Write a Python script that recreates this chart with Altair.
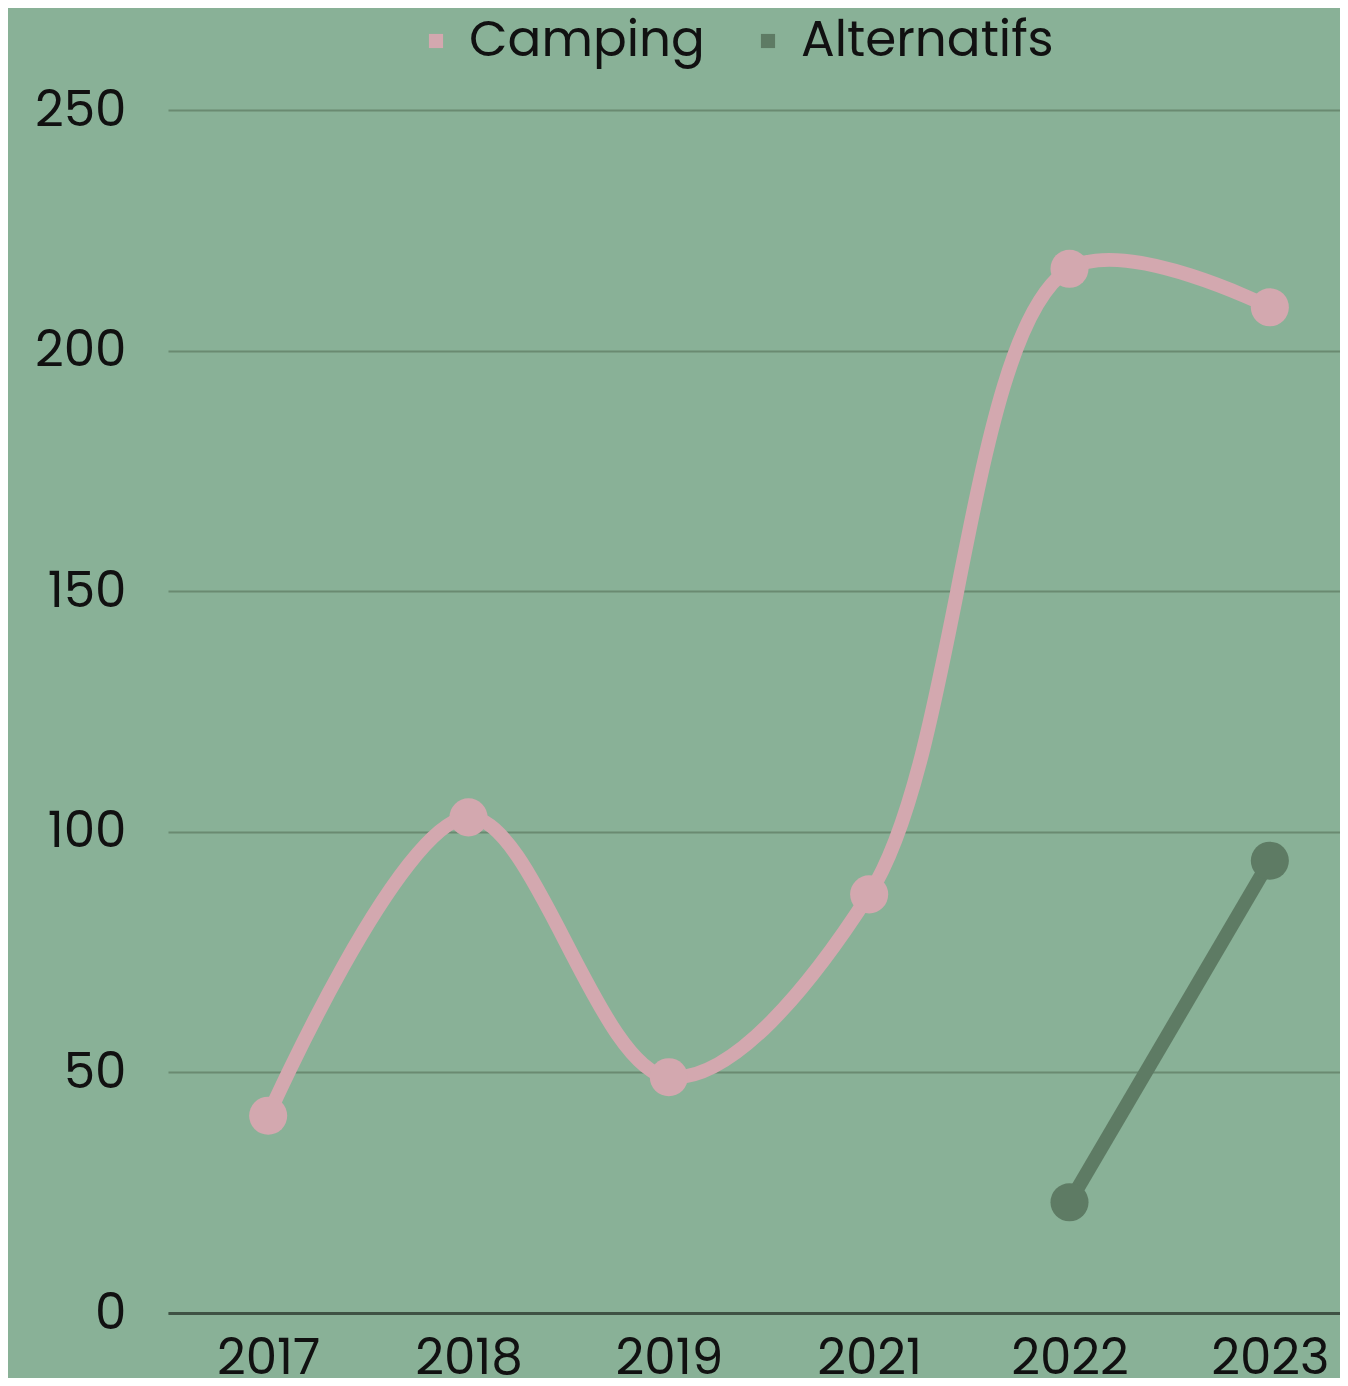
import altair as alt
import pandas as pd

years = ["2017", "2018", "2019", "2021", "2022", "2023"]
camping = [41, 103, 49, 87, 217, 209]
alt_years = ["2022", "2023"]
alternatifs = [23, 94]

series_names = ["Camping", "Alternatifs"]
series_colors = ["#D3A8AF", "#5E7B64"]

rows = [{"year": y, "value": v, "series": "Camping"} for y, v in zip(years, camping)]
rows += [{"year": y, "value": v, "series": "Alternatifs"} for y, v in zip(alt_years, alternatifs)]
df = pd.DataFrame(rows)

FONT = "Poppins, Lato, sans-serif"

x_enc = alt.X(
    "year:N",
    sort=years,
    scale=alt.Scale(type="point", domain=years, padding=0.5),
    axis=alt.Axis(
        title=None, labelAngle=0, labelFontSize=50, labelFont=FONT, labelColor="#111111",
        ticks=False, grid=False, domain=True, domainColor="#3F5244", domainWidth=3,
        labelPadding=20,
    ),
)
y_enc = alt.Y(
    "value:Q",
    scale=alt.Scale(domain=[0, 250], nice=False),
    axis=alt.Axis(
        title=None, values=[0, 50, 100, 150, 200, 250], labelFontSize=50, labelFont=FONT,
        labelColor="#111111", ticks=False, domain=False, grid=True, gridColor="#6A8A71",
        gridWidth=2, labelPadding=42,
    ),
)
color_enc = alt.Color(
    "series:N",
    scale=alt.Scale(domain=series_names, range=series_colors),
    legend=alt.Legend(
        title=None, orient="none", legendX=243, legendY=-94, direction="horizontal",
        symbolType="square", symbolSize=200, labelFontSize=50, labelFont=FONT,
        labelColor="#111111", columnPadding=38, labelOffset=8, symbolStrokeWidth=0,
        labelLimit=0,
    ),
)

base = alt.Chart(df).encode(x=x_enc, y=y_enc, color=color_enc)

lines = base.mark_line(strokeWidth=14, interpolate="catmull-rom").encode(detail="series:N")
points = base.mark_circle(size=1450, opacity=1)

chart = (
    alt.layer(lines, points)
    .properties(
        width=1202,
        height=1203,
        background="#89B197",
        padding={"left": 160, "top": 102, "right": -30, "bottom": 65},
        autosize=alt.AutoSizeParams(type="none"),
    )
    .configure_view(stroke=None)
)

chart.save("out.html", embed_options={"renderer": "svg", "actions": False})
